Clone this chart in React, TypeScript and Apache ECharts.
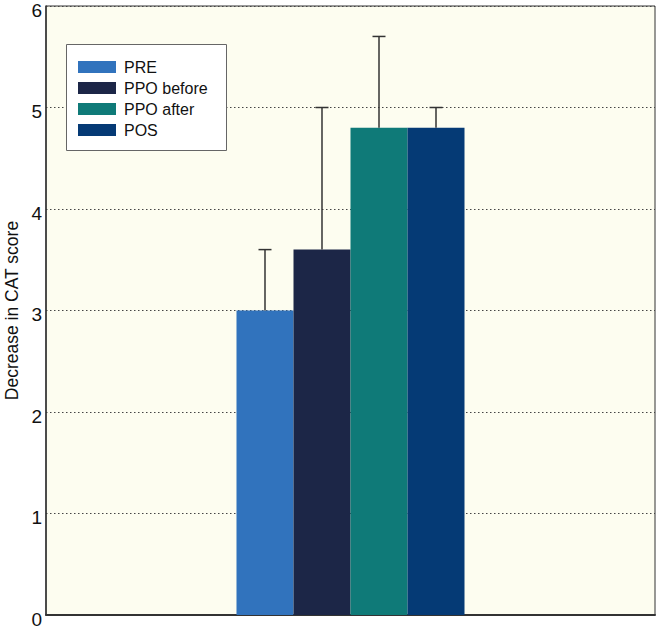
import React, { useEffect, useRef } from "react";
import * as echarts from "echarts";

const categories = [""];
const seriesNames = ["PRE", "PPO before", "PPO after", "POS"];
const seriesColors = ["#3173bd", "#1c2647", "#0f7a78", "#053a75"];
const means = [3.0, 3.6, 4.8, 4.8];
const upperBounds = [3.6, 5.0, 5.7, 5.0];
const yTicks = [0, 1, 2, 3, 4, 5, 6];

const FONT = "'Liberation Sans', Arial, Helvetica, sans-serif";
const BAR_FRACTION = 0.0936;

export default function App() {
  const ref = useRef<HTMLDivElement>(null);
  useEffect(() => {
    if (!ref.current) return;
    const chart = echarts.init(ref.current, undefined, { renderer: "svg" });
    const n = seriesNames.length;
    const barSeries = seriesNames.map((name, i) => ({
      name,
      type: "bar",
      data: [means[i]],
      barWidth: BAR_FRACTION * 100 + "%",
      barGap: "0%",
      itemStyle: { color: seriesColors[i] },
      z: 2,
    }));
    const errData = seriesNames.map((_, i) => [i, means[i], upperBounds[i]]);
    const option: any = {
      animation: false,
      textStyle: { fontFamily: FONT },
      grid: {
        left: 46,
        right: 1,
        top: 6,
        bottom: 14,
        containLabel: false,
        outerBoundsMode: "none",
        show: true,
        backgroundColor: "#fdfdf0",
        borderColor: "#333",
        borderWidth: 1,
      },
      graphic: [
        {
          type: "rect",
          left: 66,
          top: 44,
          shape: { width: 160, height: 106 },
          style: { fill: "#ffffff", stroke: "#666", lineWidth: 1 },
          z: 10,
        },
      ],
      legend: {
        orient: "vertical",
        left: 78,
        top: 59,
        padding: 0,
        itemWidth: 38,
        itemHeight: 12,
        itemGap: 5,
        icon: "rect",
        z: 20,
        data: seriesNames,
        textStyle: {
          fontFamily: FONT,
          fontSize: 16,
          color: "#111",
          padding: [0, 0, 0, 3],
        },
      },
      xAxis: {
        type: "category",
        data: categories,
        axisLine: { lineStyle: { color: "#333", width: 2 } },
        axisTick: { show: false },
        axisLabel: { show: false },
      },
      yAxis: {
        type: "value",
        min: yTicks[0],
        max: yTicks[yTicks.length - 1],
        interval: 1,
        name: "Decrease in CAT score",
        nameLocation: "middle",
        nameGap: 24,
        nameRotate: 90,
        nameTextStyle: { fontFamily: FONT, fontSize: 17.5, color: "#111" },
        axisLine: { show: true, lineStyle: { color: "#333", width: 1.5 } },
        axisTick: { show: false },
        axisLabel: {
          fontFamily: FONT,
          fontSize: 19,
          color: "#111",
          margin: 4,
          verticalAlign: "top",
          lineHeight: 8,
        },
        splitLine: {
          show: true,
          lineStyle: { color: "#444", type: [1.5, 2.5], width: 1 },
        },
      },
      series: [
        ...barSeries,
        {
          type: "custom",
          name: "err",
          z: 5,
          data: errData,
          renderItem: (params: any, api: any) => {
            const idx = api.value(0);
            const lo = api.coord([0, api.value(1)]);
            const hi = api.coord([0, api.value(2)]);
            const band = api.size([1, 0])[0];
            const bw = band * BAR_FRACTION;
            const x = lo[0] + (idx - (n - 1) / 2) * bw;
            const cap = 6.5;
            const style = { stroke: "#333", lineWidth: 1.5 };
            return {
              type: "group",
              children: [
                { type: "line", shape: { x1: x, y1: lo[1], x2: x, y2: hi[1] }, style },
                { type: "line", shape: { x1: x - cap, y1: hi[1], x2: x + cap, y2: hi[1] }, style },
              ],
            };
          },
        },
      ],
    };
    chart.setOption(option);
    return () => chart.dispose();
  }, []);
  return (
    <div
      ref={ref}
      style={{ position: "fixed", left: 0, top: 0, width: 656, height: 629, background: "#fff" }}
    />
  );
}
